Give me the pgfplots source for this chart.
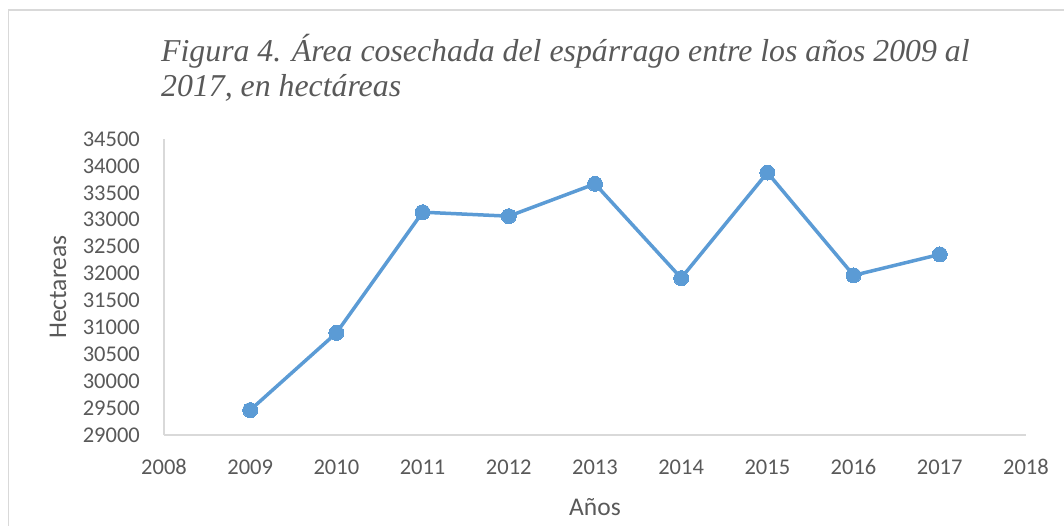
\documentclass[border=0pt]{standalone}
\usepackage{pgfplots}
\pgfplotsset{compat=1.18}
\usepackage{fontspec}
\setmainfont{Carlito}
\newfontfamily\titlefont{Liberation Serif}
\definecolor{linecol}{HTML}{5B9BD5}
\definecolor{txtgrey}{HTML}{595959}
\definecolor{axgrey}{HTML}{D9D9D9}
\begin{document}
\begin{tikzpicture}
\useasboundingbox (0pt,0pt) rectangle (1064pt,525pt);
\draw[axgrey, line width=1.5pt] (8.5pt,-10pt) -- (8.5pt,515pt) -- (1080pt,515pt);
\node[anchor=base west, inner sep=0pt, align=left, text=txtgrey,
      font=\titlefont\itshape\fontsize{31.8}{35.5}\selectfont] at (161pt,428.3pt)
      {Figura 4. Área cosechada del espárrago entre los años 2009 al\\2017, en hectáreas};
\begin{axis}[
  at={(164pt,90pt)}, anchor=south west,
  width=862pt, height=296pt, scale only axis,
  xmin=2008, xmax=2018, ymin=29000, ymax=34500,
  xtick={2008,2009,...,2018},
  ytick={29000,29500,...,34500},
  scaled y ticks=false, scaled x ticks=false,
  axis lines*=left,
  axis line style={axgrey, line width=1.3pt},
  major tick length=0pt,
  /pgf/number format/assume math mode=true,
  /pgf/number format/1000 sep={},
  yticklabel={\pgfmathprintnumber[fixed,precision=0,1000 sep={}]{\tick}},
  ticklabel style={font=\fontsize{22.5}{27}\selectfont, text=txtgrey, inner sep=0pt},
  yticklabel style={anchor=east, xshift=-24pt},
  xticklabel style={anchor=base, yshift=-39pt},
  xlabel={Años}, ylabel={Hectareas},
  label style={font=\fontsize{25.5}{30}\selectfont, text=txtgrey, inner sep=0pt},
  xlabel style={at={(axis description cs:0.5,0)}, anchor=base, yshift=-80pt},
  ylabel style={at={(axis description cs:-0.123,0.5)}, anchor=center, rotate=0},
  clip=false,
]
\addplot[linecol, line width=3.5pt, mark=*, mark size=7.5pt, mark options={fill=linecol, draw=linecol, line width=0pt}]
coordinates {
(2009,29463) (2010,30897) (2011,33140) (2012,33066) (2013,33666)
(2014,31916) (2015,33876) (2016,31966) (2017,32356)
};
\end{axis}
\end{tikzpicture}
\end{document}
